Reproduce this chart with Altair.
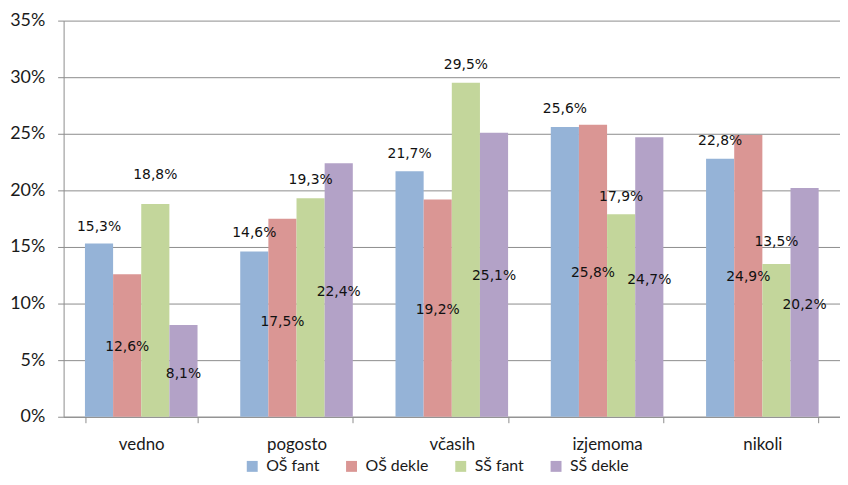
import altair as alt
import pandas as pd

categories = ["vedno", "pogosto", "včasih", "izjemoma", "nikoli"]
series = ["OŠ fant", "OŠ dekle", "SŠ fant", "SŠ dekle"]

os_fant = [15.3, 14.6, 21.7, 25.6, 22.8]
os_dekle = [12.6, 17.5, 19.2, 25.8, 24.9]
ss_fant = [18.8, 19.3, 29.5, 17.9, 13.5]
ss_dekle = [8.1, 22.4, 25.1, 24.7, 20.2]

# heights (in % units) at which the data labels sit in the original chart
lab_os_fant = [16.75, 16.2, 23.25, 27.2, 24.4]
lab_os_dekle = [6.15, 8.4, 9.4, 12.7, 12.3]
lab_ss_fant = [21.4, 20.9, 31.05, 19.4, 15.45]
lab_ss_dekle = [3.8, 11.05, 12.4, 12.1, 9.9]

colors = ["#95B3D7", "#DA9694", "#C3D69B", "#B3A2C7"]
y_ticks = [0, 5, 10, 15, 20, 25, 30, 35]

rows = []
for s, vals, labs in zip(series,
                         [os_fant, os_dekle, ss_fant, ss_dekle],
                         [lab_os_fant, lab_os_dekle, lab_ss_fant, lab_ss_dekle]):
    for c, v, ly in zip(categories, vals, labs):
        rows.append({
            "cat": c, "series": s, "value": v, "label_y": ly,
            "label": f"{v:.1f}".replace(".", ",") + "%",
        })
df = pd.DataFrame(rows)

FONT = "Lato"
GRID = "#8C8C8C"

x_enc = alt.X(
    "cat:N", sort=categories,
    scale=alt.Scale(paddingInner=0.275, paddingOuter=0.1375),
    axis=alt.Axis(title=None, labelAngle=0, tickBand="extent", tickSize=6,
                  labelPadding=22, labelBaseline="middle", labelFontSize=17,
                  labelFont=FONT, labelColor="#1A1A1A", domainColor=GRID,
                  tickColor=GRID, grid=False),
)
xoff = alt.XOffset("series:N", sort=series)

bars = alt.Chart(df).mark_bar().encode(
    x=x_enc,
    xOffset=xoff,
    y=alt.Y("value:Q", scale=alt.Scale(domain=[0, 35], nice=False),
            axis=alt.Axis(title=None, values=y_ticks, labelExpr="datum.value + '%'",
                          tickSize=6, labelPadding=13, labelFontSize=18,
                          labelFont=FONT, labelColor="#1A1A1A", gridColor=GRID,
                          domainColor=GRID, tickColor=GRID)),
    color=alt.Color("series:N", sort=series,
                    scale=alt.Scale(domain=series, range=colors),
                    legend=alt.Legend(title=None, orient="none", direction="horizontal",
                                      legendX=182, legendY=441, padding=0,
                                      symbolType="square", symbolSize=121,
                                      symbolStrokeWidth=0, labelFontSize=16,
                                      labelFont=FONT, labelColor="#1A1A1A",
                                      labelOffset=6, columnPadding=24)),
)

labels = alt.Chart(df).mark_text(fontSize=14, font="DejaVu Sans", color="#111111",
                                 baseline="middle", align="center").encode(
    x=alt.X("cat:N", sort=categories),
    xOffset=xoff,
    y=alt.Y("label_y:Q"),
    text="label:N",
)

chart = (bars + labels).properties(
    width=782, height=399,
    autosize=alt.AutoSizeParams(type="none"),
    padding={"left": 56, "top": 11, "right": 0, "bottom": 59},
).configure_view(stroke=None)

chart.save("out.html", embed_options={"renderer": "svg", "actions": False})
